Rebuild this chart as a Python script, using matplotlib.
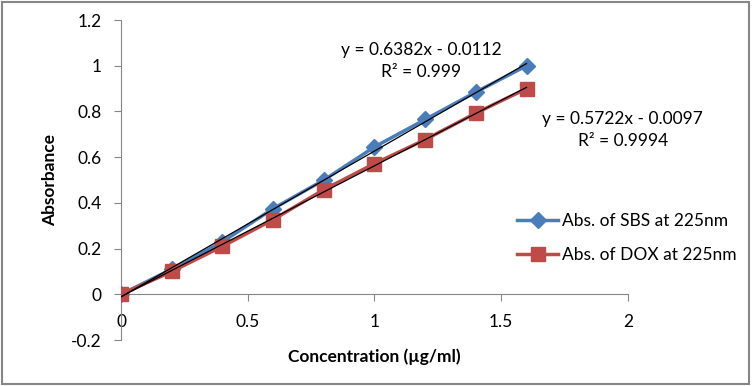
import matplotlib.pyplot as plt
from matplotlib.patches import Rectangle
import numpy as np

plt.rcParams['font.family'] = ['Lato', 'DejaVu Sans']

# concentrations and absorbances
conc = [0, 0.2, 0.4, 0.6, 0.8, 1.0, 1.2, 1.4, 1.6]
abs_sbs = [0, 0.11, 0.23, 0.375, 0.50, 0.645, 0.765, 0.885, 1.0]
abs_dox = [0, 0.10, 0.21, 0.327, 0.458, 0.572, 0.677, 0.793, 0.90]

# trendline coefficients as printed on the chart
sbs_fit = (0.6382, -0.0112)
dox_fit = (0.5722, -0.0097)

blue = '#4A7EBB'
red = '#BE4B48'

fig = plt.figure(figsize=(7.52, 3.86), dpi=100)
ax = fig.add_axes([0.161, 0.119, 0.674, 0.829])

ax.plot(conc, abs_sbs, color=blue, lw=2.5, marker='D', ms=8.5,
        label='Abs. of SBS at 225nm', zorder=3)
ax.plot(conc, abs_dox, color=red, lw=2.5, marker='s', ms=10.5,
        label='Abs. of DOX at 225nm', zorder=3)

xs = np.array([conc[0], conc[-1]])
ax.plot(xs, sbs_fit[0] * xs + sbs_fit[1], color='black', lw=0.9, zorder=4)
ax.plot(xs, dox_fit[0] * xs + dox_fit[1], color='black', lw=0.9, zorder=4)

ax.text(1.185, 1.02, 'y = 0.6382x - 0.0112\nR² = 0.999', ha='center', va='center',
        fontsize=12.5, linespacing=1.5)
ax.text(1.98, 0.72, 'y = 0.5722x - 0.0097\nR² = 0.9994', ha='center', va='center',
        fontsize=12.5, linespacing=1.45)

ax.set_xlim(0, 2)
ax.set_ylim(-0.2, 1.2)
ax.set_xticks([0, 0.5, 1, 1.5, 2])
ax.set_xticklabels(['0', '0.5', '1', '1.5', '2'])
ax.set_yticks(np.arange(-0.2, 1.21, 0.2))
ax.set_yticklabels(['-0.2', '0', '0.2', '0.4', '0.6', '0.8', '1', '1.2'])

for s in ['top', 'right']:
    ax.spines[s].set_visible(False)
ax.spines['bottom'].set_position(('data', 0))
ax.spines['left'].set_color('#868686')
ax.spines['bottom'].set_color('#868686')
ax.tick_params(axis='both', colors='#868686', labelcolor='black', labelsize=12.5,
               length=5, width=0.8)
ax.tick_params(axis='y', pad=9)
ax.tick_params(axis='x', pad=9)

ax.set_xlabel('Concentration (µg/ml)', fontsize=12.5, fontweight='bold')
ax.xaxis.set_label_coords(0.5, -0.025)
ax.set_ylabel('Absorbance', fontsize=12.5, fontweight='bold')
ax.yaxis.set_label_coords(-0.125, 0.5)

ax.legend(loc='upper left', bbox_to_anchor=(0.75, 0.445), frameon=False,
          fontsize=12.5, handlelength=2.4, handletextpad=0.2, labelspacing=1.0)

fig.patches.append(Rectangle((0.002, 0.004), 0.994, 0.99, transform=fig.transFigure,
                             fill=False, edgecolor='#868686', lw=1.5))

fig.savefig('out.png', dpi=100)
